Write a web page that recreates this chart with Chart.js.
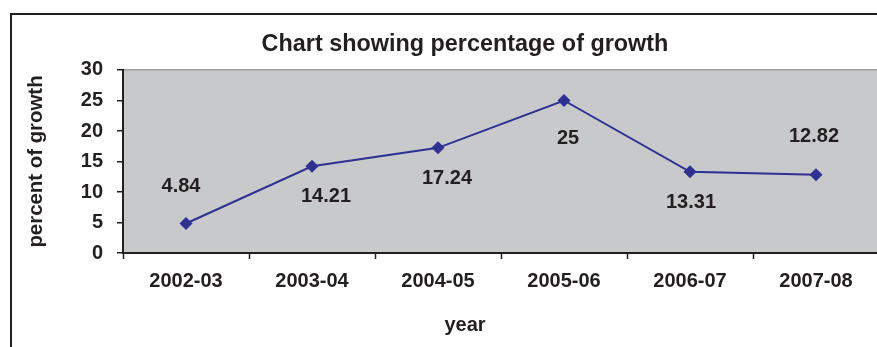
<!DOCTYPE html>
<html><head><meta charset="utf-8">
<script src="https://cdn.jsdelivr.net/npm/chart.js@4.4.1/dist/chart.umd.min.js"></script>
<style>
html,body{margin:0;padding:0;overflow:hidden;background:#fff;width:877px;height:347px;}
#frame{position:absolute;left:10px;top:13px;width:1000px;height:400px;border-left:2px solid #231f20;border-top:2px solid #231f20;box-sizing:border-box;}
canvas{position:absolute;left:0;top:0;}
</style></head><body>
<div id="frame"></div>
<canvas id="c" width="930" height="347" style="width:930px;height:347px"></canvas>
<script>
const categories = ['2002-03','2003-04','2004-05','2005-06','2006-07','2007-08'];
const growth = [4.84, 14.21, 17.24, 25, 13.31, 12.82];
const yTicks = [0, 5, 10, 15, 20, 25, 30];
const labelShiftX = [-5, 14, 9, 4, 1, -2];
const labelShiftY = [-37, 30, 31, 38, 31, -38];

const INK = '#231f20';
const FONT = "'Liberation Sans', Arial, sans-serif";

const plotBg = {
  id: 'plotBg',
  beforeDraw(chart) {
    const a = chart.chartArea, ctx = chart.ctx;
    ctx.save();
    ctx.fillStyle = '#c8c9cb';
    ctx.fillRect(a.left, a.top, a.right - a.left, a.bottom - a.top);
    ctx.restore();
  }
};

const valueLabels = {
  id: 'valueLabels',
  afterDatasetsDraw(chart) {
    const ctx = chart.ctx;
    const meta = chart.getDatasetMeta(0);
    ctx.save();
    ctx.font = 'bold 20px ' + FONT;
    ctx.fillStyle = INK;
    ctx.textAlign = 'center';
    ctx.textBaseline = 'middle';
    meta.data.forEach((pt, i) => {
      ctx.fillText(String(growth[i]), pt.x + labelShiftX[i], pt.y + labelShiftY[i]);
    });
    ctx.restore();
  }
};

new Chart(document.getElementById('c'), {
  type: 'line',
  data: {
    labels: categories,
    datasets: [{
      data: growth,
      borderColor: '#2e3192',
      backgroundColor: '#2e3192',
      borderWidth: 2,
      pointStyle: 'rectRot',
      pointRadius: 6.5,
      pointHoverRadius: 6.5,
      pointBorderWidth: 0,
      tension: 0,
      fill: false,
      yAxisID: 'y'
    }]
  },
  options: {
    responsive: false,
    animation: false,
    devicePixelRatio: 1,
    layout: { padding: 0 },
    plugins: {
      legend: { display: false },
      tooltip: { enabled: false },
      title: {
        display: true,
        text: 'Chart showing percentage of growth',
        color: INK,
        font: { family: FONT, size: 23.4, weight: 'bold' },
        padding: { top: 30.5, bottom: 11.4 }
      },
      subtitle: {
        display: true,
        position: 'bottom',
        text: 'year',
        color: INK,
        font: { family: FONT, size: 20, weight: 'bold' },
        padding: { top: 0, bottom: 10 }
      }
    },
    scales: {
      x: {
        offset: true,
        afterFit: s => { s.height = 60; },
        grid: { offset: true, drawOnChartArea: false, tickColor: INK, tickLength: 6, tickWidth: 1.5 },
        border: { color: INK, width: 2 },
        ticks: { color: INK, padding: 10, font: { family: FONT, size: 20, weight: 'bold' }, maxRotation: 0 }
      },
      y: {
        min: 0, max: 30,
        afterBuildTicks: s => { s.ticks = yTicks.map(v => ({ value: v })); },
        afterFit: s => { s.width = 123; },
        grid: {
          color: c => (c.tick && c.tick.value === 30) ? '#9d9ea0' : 'rgba(0,0,0,0)',
          lineWidth: 1.5,
          tickColor: INK, tickLength: 6, tickWidth: 1.5
        },
        border: { color: INK, width: 2 },
        ticks: { color: INK, padding: 14, font: { family: FONT, size: 20, weight: 'bold' } },
        title: {
          display: true,
          text: 'percent of growth',
          color: INK,
          font: { family: FONT, size: 20.4, weight: 'bold' },
          padding: { top: 24, bottom: 0 }
        }
      },
      yRight: {
        position: 'right',
        display: true,
        min: 0, max: 30,
        afterFit: s => { s.width = 51; },
        grid: { display: false, drawTicks: false },
        border: { display: false },
        ticks: { display: false }
      }
    }
  },
  plugins: [plotBg, valueLabels]
});
</script>
</body></html>
